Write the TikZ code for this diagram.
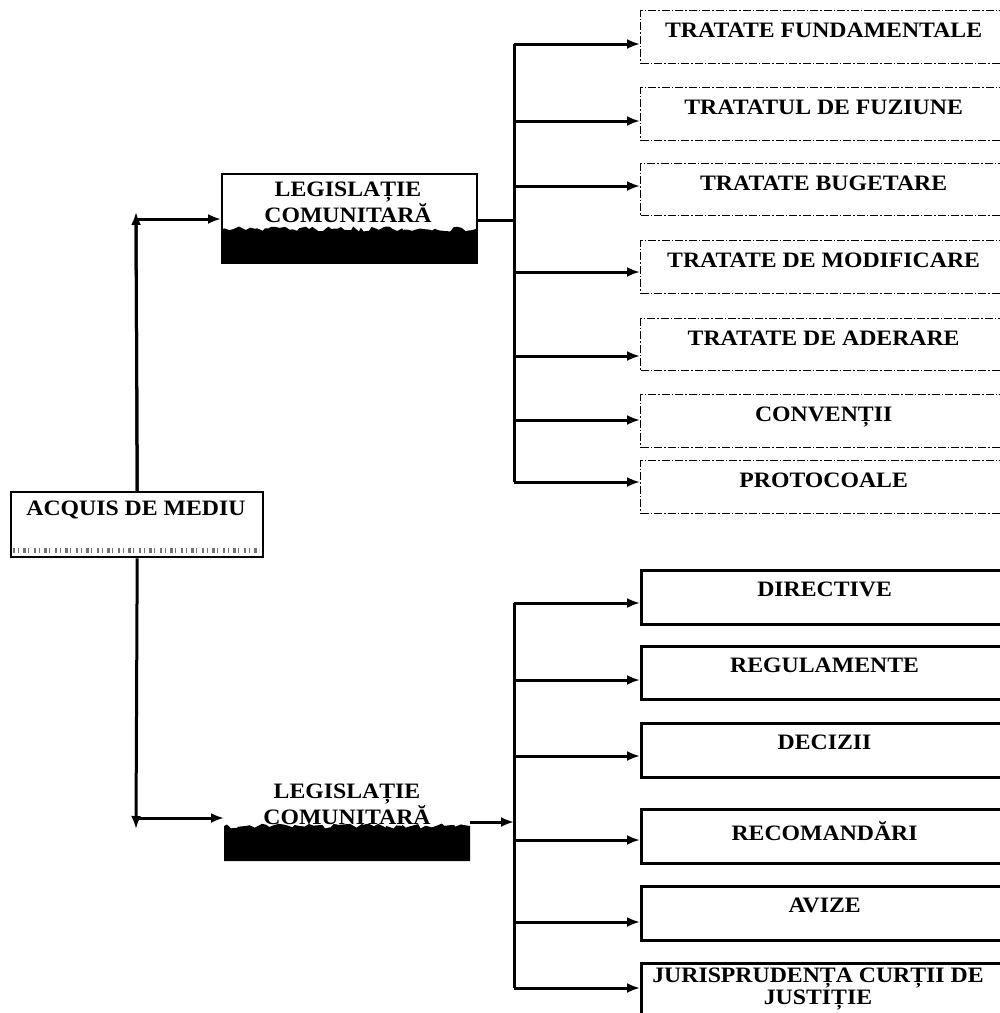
\documentclass[tikz,border=0pt]{standalone}
\usepackage{fontspec}
\setmainfont{Liberation Serif}[FakeStretch=1.08]
\usetikzlibrary{arrows.meta,decorations.pathmorphing}
\begin{document}
\begin{tikzpicture}[x=1pt,y=-1pt,
  lbl/.style={font=\bfseries\fontsize{22}{19}\selectfont, align=center, inner sep=0pt},
  conn/.style={line width=3pt},
  arr/.style={conn,-{Latex[length=13pt,width=10pt]}},
  dbox/.style={draw, line width=1.3pt, dash pattern=on 8pt off 2pt on 1.5pt off 2pt,
    minimum width=366pt, anchor=north west, inner sep=0pt},
  sbox/.style={draw, line width=3.2pt, minimum width=366pt, anchor=north west, inner sep=0pt},
  intext/.style={label={[lbl,anchor=north,yshift=-13pt]north:#1}},
  band/.style={decoration={random steps,segment length=4pt,amplitude=2.5pt}},
]
\pgfmathsetseed{7}
\useasboundingbox (0,0) rectangle (1000,1013);
\clip (0,0) rectangle (1000,1013);

% root box with its speckled lower strip
\node[draw, line width=2.4pt, anchor=north west, minimum width=252pt, minimum height=65pt,
      inner sep=0pt] (acq) at (10,491) {};
\draw[black!55, line width=5pt, dash pattern=on 2pt off 3pt on 1pt off 4pt on 3pt off 2pt on 1pt off 5pt]
  (13,550) -- (259,550);
\node[lbl] (acqt) at (136,510) {ACQUIS DE MEDIU};

% upper group heading
\fill[black] (221,262) -- (221,229) decorate[band]{-- (476,229)} -- (476,262) -- cycle;
\node[draw, line width=2.4pt, anchor=north west, minimum width=255pt, minimum height=89pt,
      inner sep=0pt] (LT) at (221,173) {};
\node[lbl] (LTt) at (348,202) {LEGISLAȚIE\\COMUNITARĂ};

% lower group heading (frame not drawn, only the dark band)
\node[anchor=north west, minimum width=246pt, minimum height=87pt, inner sep=0pt]
  (LB) at (224,775) {};
\fill[black] (224,861) -- (224,826) decorate[band]{-- (470,826)} -- (470,861) -- cycle;
\node[lbl, font=\bfseries\fontsize{22}{17}\selectfont] (LBt) at (347,804) {LEGISLAȚIE\\COMUNITARĂ};

% treaties (dashed frames)
\node[dbox, minimum height=53pt, intext={TRATATE FUNDAMENTALE}] (d1) at (640,10) {};
\node[dbox, minimum height=53pt, intext={TRATATUL DE FUZIUNE}] (d2) at (640,87) {};
\node[dbox, minimum height=52pt, intext={TRATATE BUGETARE}] (d3) at (640,163) {};
\node[dbox, minimum height=53pt, intext={TRATATE DE MODIFICARE}] (d4) at (640,240) {};
\node[dbox, minimum height=52pt, intext={TRATATE DE ADERARE}] (d5) at (640,318) {};
\node[dbox, minimum height=53pt, intext={CONVENȚII}] (d6) at (640,394) {};
\node[dbox, minimum height=53pt, intext={PROTOCOALE}] (d7) at (640,460) {};

% secondary acts (solid frames)
\node[sbox, minimum height=54pt, intext={DIRECTIVE}] (s1) at (640,569) {};
\node[sbox, minimum height=53pt, intext={REGULAMENTE}] (s2) at (640,645) {};
\node[sbox, minimum height=54pt, intext={DECIZII}] (s3) at (640,722) {};
\node[sbox, minimum height=54pt, intext={RECOMANDĂRI}] (s4) at (640,808) {};
\node[sbox, minimum height=54pt, intext={AVIZE}] (s5) at (640,885) {};
\node[sbox, minimum height=70pt] (s6) at (640,962) {};
\node[lbl, font=\bfseries\fontsize{22}{17}\selectfont] (s6t) at (818,989) {JURISPRUDENȚA CURȚII DE\\JUSTIȚIE};

% branch points on the two buses
\coordinate (a1) at (514,44);  \coordinate (a2) at (514,121);
\coordinate (a3) at (514,186); \coordinate (a4) at (514,272);
\coordinate (a5) at (514,356); \coordinate (a6) at (514,420);
\coordinate (a7) at (514,482); \coordinate (ain) at (514,220);
\coordinate (b1) at (514,603); \coordinate (b2) at (514,680);
\coordinate (b3) at (514,756); \coordinate (b4) at (514,840);
\coordinate (b5) at (514,922); \coordinate (b6) at (514,988);
\coordinate (bin) at (514,822);

% root connectors
\coordinate (up) at (136,212);  \coordinate (upc) at (136,219);
\coordinate (dn) at (136,829);  \coordinate (dnc) at (136,818);
\draw[arr] (acq.north) -- (up);
\draw[conn] (acq.north) -- (upc);
\draw[arr] (upc) -- (upc -| LT.west);
\draw[arr] (acq.south) -- (dn);
\draw[arr] (dnc) -- (dnc -| LB.west);

% upper bus
\draw[conn] (ain -| LT.east) -- (ain);
\draw[conn] (a1) -- (a7);
\foreach \i in {1,...,7}{\draw[arr] (a\i) -- (a\i -| d\i.west);}

% lower bus
\draw[arr] (bin -| LB.east) -- (bin);
\draw[conn] (b1) -- (b6);
\foreach \i in {1,...,6}{\draw[arr] (b\i) -- (b\i -| s\i.west);}
\end{tikzpicture}
\end{document}
